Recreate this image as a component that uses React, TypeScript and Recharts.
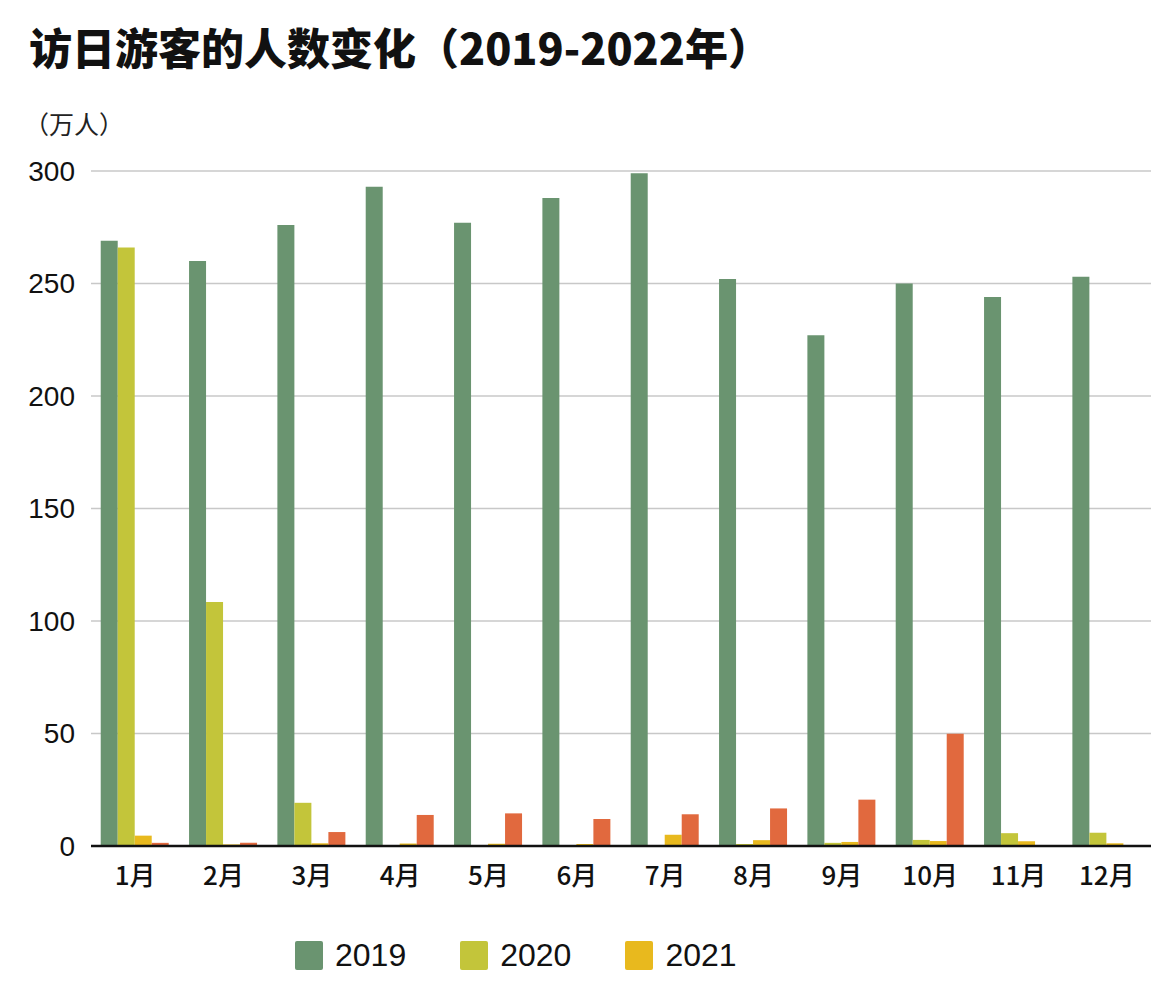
import React from 'react';
import { BarChart, Bar, XAxis, YAxis, CartesianGrid } from 'recharts';

const months = ['1月', '2月', '3月', '4月', '5月', '6月', '7月', '8月', '9月', '10月', '11月', '12月'];
const v2019 = [269, 260, 276, 293, 277, 288, 299, 252, 227, 250, 244, 253];
const v2020 = [266, 108.5, 19.2, 0.3, 0.2, 0.3, 0.4, 0.9, 1.4, 2.7, 5.7, 5.9];
const v2021 = [4.6, 0.7, 1.2, 1.1, 1.0, 0.9, 5.0, 2.6, 1.8, 2.2, 2.1, 1.2];
const v2022 = [1.4, 1.5, 6.2, 13.8, 14.5, 12.0, 14.1, 16.7, 20.6, 49.9, null, null];
const yTicks = [0, 50, 100, 150, 200, 250, 300];

const series = [
  { key: 's2019', name: '2019', color: '#6a9470', values: v2019, legend: true },
  { key: 's2020', name: '2020', color: '#c3c53a', values: v2020, legend: true },
  { key: 's2021', name: '2021', color: '#e8b91e', values: v2021, legend: true },
  { key: 's2022', name: '2022', color: '#e1693e', values: v2022, legend: false },
];

const data = months.map((m, i) => {
  const row: Record<string, any> = { month: m };
  series.forEach((s) => {
    row[s.key] = s.values[i];
  });
  return row;
});

export default function App() {
  return (
    <div
      style={{
        position: 'absolute',
        left: 0,
        top: 0,
        width: 1174,
        height: 1002,
        background: '#ffffff',
        overflow: 'hidden',
      }}
    >
      <div
        style={{
          position: 'absolute',
          left: 29,
          top: 21,
          fontFamily: '"Noto Sans CJK SC", sans-serif',
          fontWeight: 900,
          fontSize: 43,
          lineHeight: '50px',
          color: '#111',
          whiteSpace: 'nowrap',
        }}
      >
        访日游客的人数变化（2019-2022年）
      </div>
      <div
        style={{
          position: 'absolute',
          left: 24,
          top: 106,
          fontFamily: '"Noto Sans CJK SC", sans-serif',
          fontSize: 25,
          lineHeight: '34px',
          color: '#222',
          whiteSpace: 'nowrap',
        }}
      >
        （万人）
      </div>
      <div style={{ position: 'absolute', left: 0, top: 0 }}>
        <BarChart
          width={1174}
          height={1002}
          data={data}
          margin={{ top: 171, right: 23, left: 11, bottom: 116 }}
          barCategoryGap="11%"
          barGap={0}
        >
          <CartesianGrid vertical={false} stroke="#c8c8c8" strokeWidth={1.5} />
          <XAxis
            dataKey="month"
            height={40}
            tickLine={false}
            tickSize={0}
            tickMargin={21}
            axisLine={{ stroke: '#111', strokeWidth: 2.5 }}
            tick={{ fill: '#111', fontSize: 26, fontFamily: '"Noto Sans CJK SC", sans-serif', fontWeight: 500 }}
            interval={0}
          />
          <YAxis
            width={80}
            domain={[0, 300]}
            ticks={yTicks}
            axisLine={false}
            tickLine={false}
            tickSize={0}
            tickMargin={16}
            tick={{ fill: '#111', fontSize: 28, fontFamily: '"Liberation Sans", Arial, sans-serif' }}
          />
          {series.map((s) => (
            <Bar
              key={s.key}
              dataKey={s.key}
              name={s.name}
              fill={s.color}
              isAnimationActive={false}
              legendType={s.legend ? 'square' : 'none'}
            />
          ))}
        </BarChart>
      </div>
      <div
        style={{
          position: 'absolute',
          left: 295,
          top: 941,
          display: 'flex',
          alignItems: 'center',
          fontFamily: '"Liberation Sans", Arial, sans-serif',
          fontSize: 32,
          color: '#111',
        }}
      >
        {series
          .filter((s) => s.legend)
          .map((s) => (
            <div key={s.key} style={{ display: 'flex', alignItems: 'center', marginRight: 54 }}>
              <div style={{ width: 28, height: 29, background: s.color, borderRadius: 2, marginRight: 12 }} />
              <span style={{ lineHeight: '29px' }}>{s.name}</span>
            </div>
          ))}
      </div>
    </div>
  );
}
